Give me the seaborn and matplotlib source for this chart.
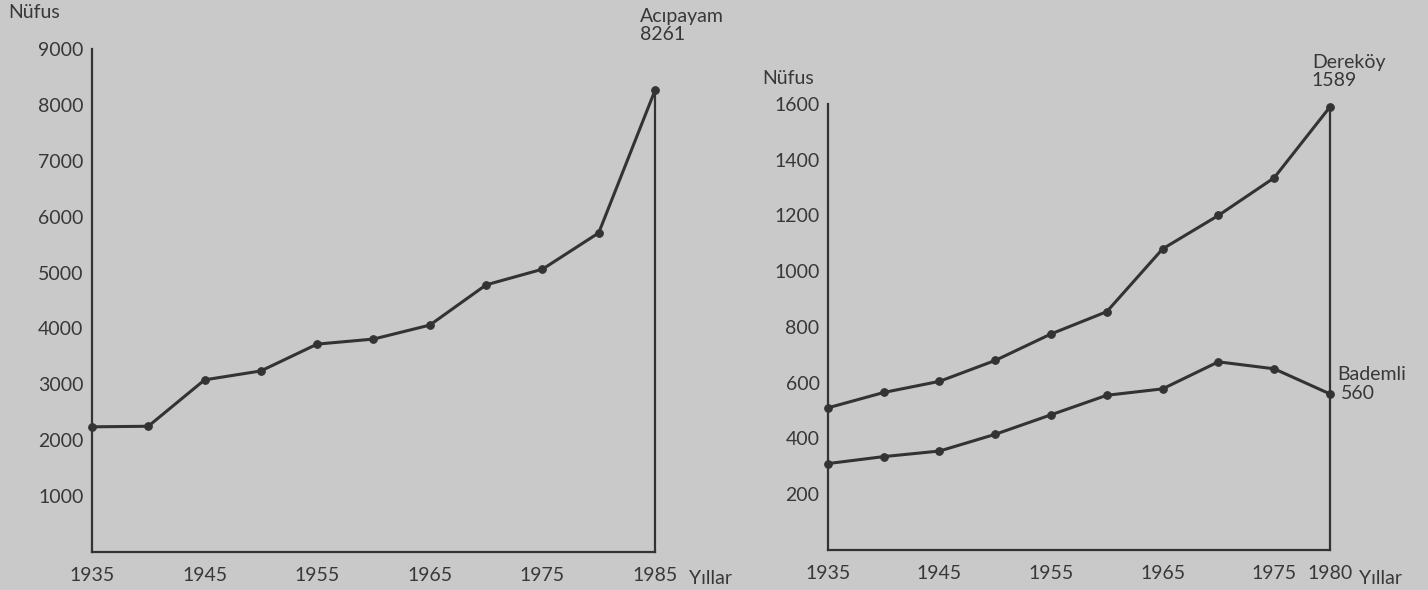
import matplotlib.pyplot as plt
import seaborn as sns

# Acıpayam nüfusu
years_left = [1935, 1940, 1945, 1950, 1955, 1960, 1965, 1970, 1975, 1980, 1985]
acipayam = [2240, 2250, 3080, 3240, 3720, 3810, 4060, 4780, 5060, 5710, 8261]

# Dereköy ve Bademli nüfusu
years_right = [1935, 1940, 1945, 1950, 1955, 1960, 1965, 1970, 1975, 1980]
derekoy = [510, 565, 605, 680, 775, 855, 1080, 1200, 1335, 1589]
bademli = [310, 335, 355, 415, 485, 555, 578, 675, 650, 560]

left_xlabels = ["1935", "", "1945", "", "1955", "", "1965", "", "1975", "", "1985"]
right_xlabels = ["1935", "", "1945", "", "1955", "", "1965", "", "1975", "1980"]

BG = "#c9c9c9"
INK = "#333333"
TXT = "#383838"
FS = 14

sns.set_theme(style="white")
plt.rcParams["font.family"] = ["Lato", "DejaVu Sans"]
plt.rcParams["text.color"] = TXT
plt.rcParams["xtick.color"] = INK
plt.rcParams["ytick.color"] = INK
plt.rcParams["xtick.labelcolor"] = TXT
plt.rcParams["ytick.labelcolor"] = TXT

fig = plt.figure(figsize=(14.28, 5.9), dpi=100, facecolor=BG)
ax1 = fig.add_axes([0.0644, 0.0644, 0.3943, 0.8525])
ax2 = fig.add_axes([0.5798, 0.0678, 0.3515, 0.756])


def style_axis(ax, years, xlabels, yticks, ymax, last_val, yil_x, yil_y):
    ax.set_facecolor(BG)
    ax.set_xlim(years[0], years[-1])
    ax.set_ylim(0, ymax)
    ax.set_xticks(years)
    ax.set_xticklabels(xlabels, fontsize=FS)
    ax.set_yticks(yticks)
    ax.set_yticklabels([str(t) for t in yticks], fontsize=FS)
    ax.tick_params(axis="x", direction="in", length=4, width=1, pad=11)
    ax.tick_params(axis="y", direction="out", length=4.5, width=1.2, pad=1.5)
    for side in ["left", "bottom", "right"]:
        ax.spines[side].set_color(INK)
        ax.spines[side].set_linewidth(1.6)
    ax.spines["top"].set_visible(False)
    ax.spines["right"].set_bounds(0, last_val)
    ax.set_xlabel("")
    ax.set_ylabel("")
    ax.text(yil_x, yil_y, "Yıllar", transform=ax.transAxes, fontsize=FS,
            ha="left", va="center")


line_kw = dict(color=INK, linewidth=2.2, marker="o", markersize=5.5,
               markeredgecolor=INK, clip_on=False)

sns.lineplot(x=years_left, y=acipayam, ax=ax1, **line_kw)
style_axis(ax1, years_left, left_xlabels, list(range(1000, 10000, 1000)),
           9000, acipayam[-1], 1.060, -0.052)
ax1.annotate(f"Acıpayam\n{acipayam[-1]}", (years_left[-1], acipayam[-1]),
             xytext=(-11, 34), textcoords="offset points", fontsize=FS,
             ha="left", va="bottom", linespacing=1.05)
ax1.text(-0.149, 1.073, "Nüfus", transform=ax1.transAxes, fontsize=FS,
         ha="left", va="center")

sns.lineplot(x=years_right, y=derekoy, ax=ax2, **line_kw)
sns.lineplot(x=years_right, y=bademli, ax=ax2, **line_kw)
style_axis(ax2, years_right, right_xlabels, list(range(200, 1700, 200)),
           1600, derekoy[-1], 1.058, -0.063)
ax2.annotate(f"Dereköy\n{derekoy[-1]}", (years_right[-1], derekoy[-1]),
             xytext=(-13, 13), textcoords="offset points", fontsize=FS,
             ha="left", va="bottom", linespacing=1.05)
ax2.annotate("Bademli", (years_right[-1], bademli[-1]),
             xytext=(5, 14), textcoords="offset points", fontsize=FS,
             ha="left", va="center")
ax2.annotate(f"{bademli[-1]}", (years_right[-1], bademli[-1]),
             xytext=(8, 0), textcoords="offset points", fontsize=FS,
             ha="left", va="center")
ax2.text(-0.131, 1.058, "Nüfus", transform=ax2.transAxes, fontsize=FS,
         ha="left", va="center")

fig.savefig("out.png", dpi=100, facecolor=BG)
